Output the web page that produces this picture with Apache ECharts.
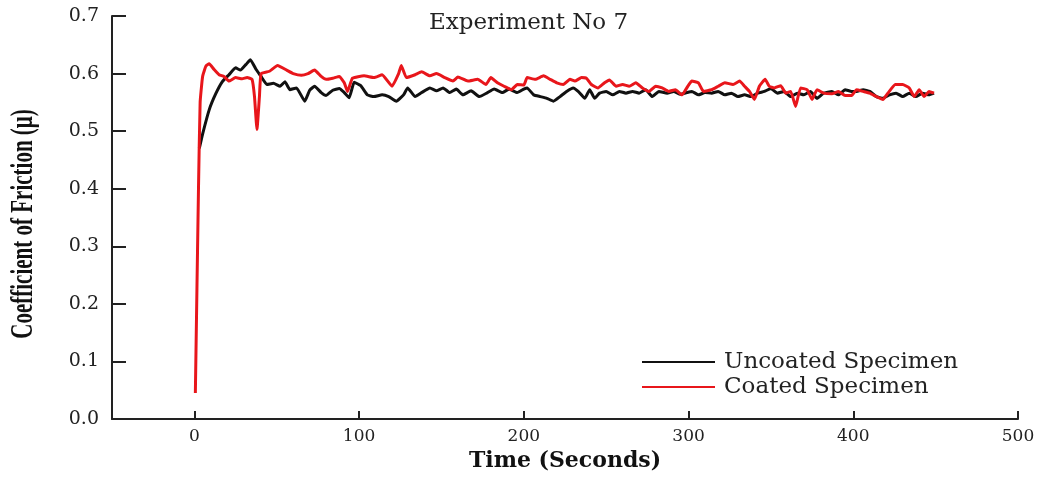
<!DOCTYPE html>
<html>
<head>
<meta charset="utf-8">
<script src="https://cdn.jsdelivr.net/npm/echarts@6/dist/echarts.min.js"></script>
<style>html,body{margin:0;padding:0;background:#fff;}#c{width:1045px;height:477px;}</style>
</head>
<body>
<div id="c"></div>
<script>
const titleText = 'Experiment No 7';
const xName = 'Time (Seconds)';
const yName = 'Coefficient of Friction (\u03bc)';
const seriesNames = ['Uncoated Specimen', 'Coated Specimen'];
const xTicks = [0, 100, 200, 300, 400, 500];

const uncoatedTime = [3,5,9,13,17,21,25,28,31.4,34,37.5,40.5,44,48,52,55,58,62,67,70,73,77,80,84,88,91,94,97,101,105,109,114,118,122.6,127,129.5,134,138,143,147,151,155,159,163,168,173,178,182,187,191,196,200,202,206,210,214,218,222,226,230,233,237,240,243,246,250,254,258,262,266,270,274,278,282,287,291,295,299,302,306,310,314,318,322,326,330,334,338,342,346,350,354,358,362,366,370,374,378,382,387,391,395,399,402,406,410,414,418,422,426,430,434,438,442,446,449];
const uncoatedMu = [0.47,0.495,0.537,0.565,0.586,0.598,0.61,0.606,0.616,0.624,0.607,0.595,0.581,0.583,0.578,0.586,0.572,0.575,0.552,0.571,0.578,0.567,0.562,0.571,0.574,0.567,0.558,0.585,0.579,0.563,0.56,0.563,0.56,0.552,0.563,0.575,0.56,0.567,0.575,0.57,0.575,0.567,0.573,0.563,0.57,0.56,0.567,0.573,0.567,0.573,0.567,0.573,0.575,0.563,0.56,0.557,0.552,0.56,0.569,0.575,0.569,0.557,0.572,0.557,0.566,0.569,0.563,0.569,0.566,0.569,0.566,0.572,0.56,0.569,0.566,0.569,0.564,0.567,0.569,0.563,0.567,0.566,0.569,0.563,0.566,0.56,0.563,0.56,0.566,0.569,0.574,0.566,0.569,0.56,0.566,0.563,0.569,0.557,0.566,0.569,0.563,0.572,0.569,0.569,0.572,0.569,0.56,0.557,0.563,0.566,0.56,0.566,0.56,0.566,0.563,0.566];

const coatedTime = [0.6,2.5,3.5,5,7,9,12,15,18,21,25,29,32,35,36.5,38,39.5,40.5,45.6,50.5,56,60,65,69,73,77,80,84,88,91,93,96,103,109,114,120,124,125.6,128.7,134,138,143,147,152,157,160,166,172,177,180,184,188,192.5,196,200,202,207,212,216,220,224,228,231,235,238,241,245,249,252,256,260,264,268,272,276,280,284,288,292,296,300,302,306,309,314,318,322,327,331,334,337,340,343,346.5,349,352,356,359,362,365,368,372,375,378,382,387,391,395,399,402,406,410,414,418,421,425.5,430,434,437,440,443,446,449];
const coatedMu = [0.045,0.40,0.55,0.595,0.613,0.617,0.607,0.598,0.595,0.587,0.593,0.591,0.593,0.59,0.56,0.503,0.56,0.60,0.604,0.614,0.606,0.60,0.597,0.60,0.606,0.595,0.59,0.592,0.595,0.584,0.569,0.592,0.596,0.593,0.598,0.578,0.60,0.614,0.593,0.598,0.603,0.596,0.60,0.593,0.587,0.594,0.587,0.59,0.581,0.593,0.584,0.578,0.572,0.581,0.58,0.593,0.59,0.596,0.59,0.584,0.581,0.59,0.587,0.593,0.592,0.581,0.575,0.584,0.589,0.578,0.581,0.578,0.584,0.575,0.569,0.578,0.575,0.569,0.572,0.563,0.58,0.587,0.584,0.569,0.572,0.578,0.584,0.581,0.587,0.578,0.569,0.555,0.578,0.59,0.578,0.575,0.579,0.566,0.569,0.543,0.575,0.572,0.555,0.572,0.566,0.565,0.569,0.562,0.562,0.572,0.569,0.566,0.56,0.555,0.566,0.581,0.581,0.575,0.56,0.572,0.56,0.569,0.566];

const pairs = (xs, ys) => xs.map((x, i) => [x, ys[i]]);

const chart = echarts.init(document.getElementById('c'), null, {renderer: 'canvas'});
const serif = 'DejaVu Serif';
chart.setOption({
  animation: false,
  backgroundColor: '#ffffff',
  title: {
    text: titleText,
    left: 424, top: 7,
    textStyle: {fontFamily: serif, fontSize: 23, fontWeight: 'normal', color: '#222'}
  },
  grid: {left: 112, right: 27, top: 16, bottom: 58, containLabel: false},
  legend: {
    orient: 'vertical',
    left: 637, top: 345,
    icon: 'rect',
    itemWidth: 73, itemHeight: 2,
    itemGap: 1,
    data: seriesNames,
    textStyle: {fontFamily: serif, fontSize: 23, color: '#222', lineHeight: 24, padding: [0, 0, 0, 4]}
  },
  xAxis: {
    type: 'value',
    min: -50, max: 500,
    name: xName,
    nameLocation: 'middle',
    nameGap: 31,
    nameTextStyle: {fontFamily: serif, fontSize: 22, fontWeight: 'bold', color: '#111'},
    axisLine: {show: true, onZero: false, lineStyle: {color: '#222', width: 2}},
    axisTick: {show: true, inside: true, length: 8, customValues: xTicks, lineStyle: {color: '#222', width: 2}},
    axisLabel: {customValues: xTicks, margin: 9, fontFamily: serif, fontSize: 17, color: '#222'},
    splitLine: {show: false}
  },
  yAxis: {
    type: 'value',
    min: 0, max: 0.7, interval: 0.1,
    axisLine: {show: true, onZero: false, lineStyle: {color: '#222', width: 2}},
    axisTick: {show: true, inside: true, length: 14, lineStyle: {color: '#222', width: 2}},
    axisLabel: {margin: 13, fontFamily: serif, fontSize: 19, color: '#222', formatter: v => v.toFixed(1)},
    splitLine: {show: false}
  },
  graphic: [{
    type: 'text',
    x: 24, y: 224,
    rotation: Math.PI / 2,
    scaleX: 1, scaleY: 1.5,
    style: {
      text: yName,
      fontFamily: 'Liberation Serif',
      fontSize: 21,
      fontWeight: 'bold',
      fill: '#111',
      align: 'center',
      verticalAlign: 'middle'
    }
  }],
  series: [
    {
      name: seriesNames[0], type: 'line', data: pairs(uncoatedTime, uncoatedMu),
      showSymbol: false, smooth: 0.12, color: '#111',
      lineStyle: {color: '#111', width: 3}
    },
    {
      name: seriesNames[1], type: 'line', data: pairs(coatedTime, coatedMu),
      showSymbol: false, smooth: 0.12, color: '#e8161b',
      lineStyle: {color: '#e8161b', width: 3}
    }
  ]
});
</script>
</body>
</html>
